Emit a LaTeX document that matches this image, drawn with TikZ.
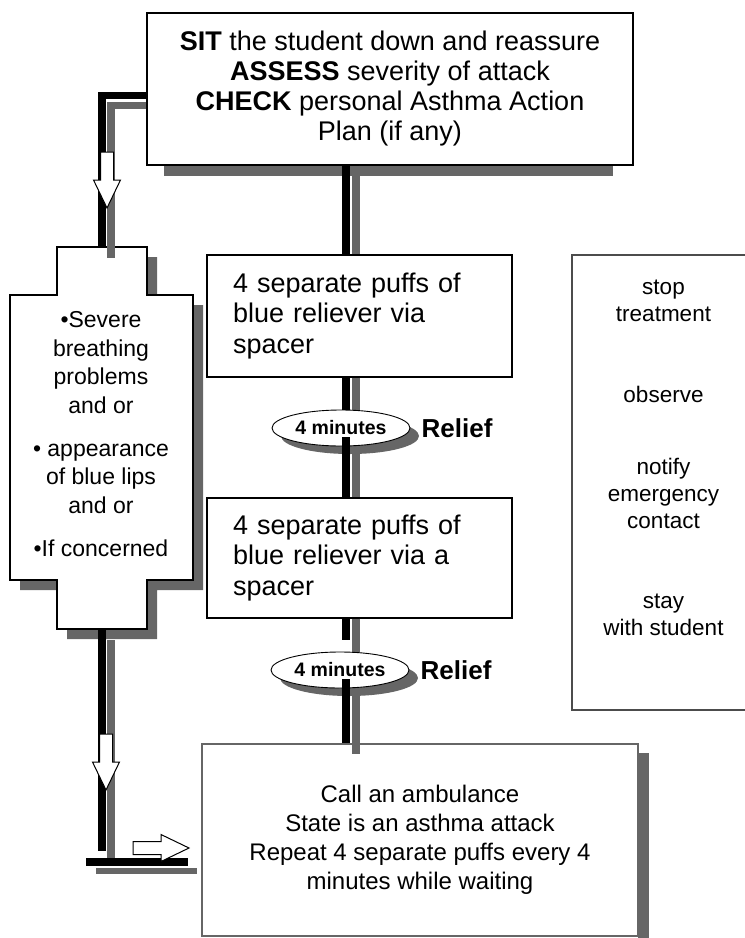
\documentclass[tikz,border=0pt]{standalone}
\usepackage{fontspec}
\setmainfont{Liberation Sans}
\usepackage{tikz}
\usetikzlibrary{positioning,shapes.geometric,shadows}

\tikzset{
  box/.style={draw=black, fill=white, line width=1.2pt, inner sep=0pt},
  shadowfill/.style={fill=black!60},
  blackbar/.style={draw=black, line width=7.5pt},
  graybar/.style={draw=black!60, line width=7.5pt},
  wait/.style={ellipse, draw=black, fill=white, line width=0.9pt, inner sep=0pt,
    minimum width=138pt, minimum height=36pt, font=\fontsize{19.5}{21}\selectfont\bfseries,
    drop shadow={shadow xshift=9pt, shadow yshift=-8pt, fill=black!60, opacity=1}},
  relief/.style={inner sep=0pt, font=\fontsize{26}{28}\selectfont\bfseries},
  hollow/.pic={\draw[fill=white, line width=1pt] (-6.5,0) -- (6.5,0) -- (6.5,28) -- (13.5,28)
    -- (0,56) -- (-13.5,28) -- (-6.5,28) -- cycle;}
}

\begin{document}
\begin{tikzpicture}[x=1pt, y=-1pt]
\useasboundingbox (0,0) rectangle (745,938);

% Left stepped box with its shadow
\fill[shadowfill, shift={(10,10)}] (57,247) -- (147,247) -- (147,295) -- (193,295) -- (193,580)
  -- (147,580) -- (147,629) -- (57,629) -- (57,580) -- (10,580) -- (10,295) -- (57,295) -- cycle;
\filldraw[fill=white, draw=black, line width=1.2pt] (57,247) -- (147,247) -- (147,295) -- (193,295) -- (193,580)
  -- (147,580) -- (147,629) -- (57,629) -- (57,580) -- (10,580) -- (10,295) -- (57,295) -- cycle;
\node[align=center, inner sep=0pt, font=\fontsize{23}{28.5}\selectfont] (severe) at (101,434)
  {{\textbullet}Severe\\breathing\\problems\\and or\\[14.5pt]{\textbullet} appearance\\of blue lips\\and or\\[14.5pt]{\textbullet}If concerned};
\coordinate (severetop) at (102,247);
\coordinate (severebottom) at (102,629);

% Main column
\path
(390,89) node[box, minimum width=486pt, minimum height=152pt, align=center,
  font=\fontsize{27}{30}\selectfont] (sit)
  {\textbf{SIT} the student down and reassure\\\textbf{ASSESS} severity of attack\\\textbf{CHECK} personal Asthma Action\\Plan (if any)}
(359.5,316) node[box, text width=253pt, inner xsep=26pt, minimum height=122pt, align=left,
  font=\fontsize{27}{30.5}\selectfont] (puffsA)
  {4 separate puffs of\\blue reliever via\\spacer}
(359.5,558) node[box, text width=253pt, inner xsep=26pt, minimum height=120pt, align=left,
  font=\fontsize{27}{30.5}\selectfont] (puffsB)
  {4 separate puffs of\\blue reliever via a\\spacer};

% Ambulance box with shadow
\fill[shadowfill] (638,753) rectangle (649,946);
\node[box, draw=black!60, line width=1.5pt, minimum width=436pt, minimum height=192pt, align=center,
  font=\fontsize{24}{29}\selectfont] (ambulance) at (420,840)
  {Call an ambulance\\State is an asthma attack\\Repeat 4 separate puffs every 4\\minutes while waiting};

% Top box shadow
\fill[shadowfill] ([xshift=18pt]sit.south west) rectangle ([xshift=-21pt,yshift=-10pt]sit.south east);

% Side panel
\node[box, draw=black!70, line width=1.5pt, minimum width=183pt, minimum height=455pt] (after) at (663.5,482.5) {};
\node[align=center, inner sep=0pt, font=\fontsize{22.5}{27}\selectfont] (aftertext) at (663.5,458)
  {stop\\treatment\\[54pt]observe\\[45pt]notify\\emergency\\contact\\[53pt]stay\\with student};

% Connectors, gray under
\coordinate (spine) at (346,0);
\coordinate (spinegray) at (356,0);
\coordinate (severegray) at (111,258);
\coordinate (foot) at (102,851);
\coordinate (footgray) at (111,858);
\draw[graybar] ([yshift=-16.5pt]sit.west) -| (severegray);
\draw[graybar] ([xshift=9pt,yshift=-11pt]severebottom) -- (footgray);
\draw[graybar] (spinegray |- sit.south) -- (spinegray |- puffsA.north);
\draw[graybar] (spinegray |- puffsA.south) -- (spinegray |- puffsB.north);
\draw[graybar] (spinegray |- puffsB.south) -- ([yshift=-11pt]spinegray |- ambulance.north);

% Waiting ellipses
\node[wait] (waitA) at (341,428) {4 minutes};
\node[wait] (waitB) at (340,670) {4 minutes};
\node[relief, right=11pt of waitA] (reliefA) {Relief};
\node[relief, right=11pt of waitB] (reliefB) {Relief};

% Connectors, black over
\draw[blackbar] ([yshift=-6.5pt]sit.west) -| (severetop);
\draw[blackbar] (severebottom) -- (foot);
\draw[blackbar] (spine |- sit.south) -- (spine |- puffsA.north);
\draw[blackbar] (spine |- puffsA.south) -- (spine |- waitA.north);
\draw[blackbar] ([yshift=-9pt]spine |- waitA.center) -- (spine |- puffsB.north);
\draw[blackbar] (spine |- puffsB.south) -- ([yshift=12pt]spine |- waitB.north);
\draw[blackbar] ([yshift=-9pt]spine |- waitB.center) -- (spine |- ambulance.north);
\fill[black!60] (96,868) rectangle (197,874);
\fill[black] (86,858) rectangle (188,866);

% Hollow arrows
\pic at (107,152) {hollow};
\pic at (106,734) {hollow};
\pic[rotate=90] at (133,848) {hollow};

\end{tikzpicture}
\end{document}
